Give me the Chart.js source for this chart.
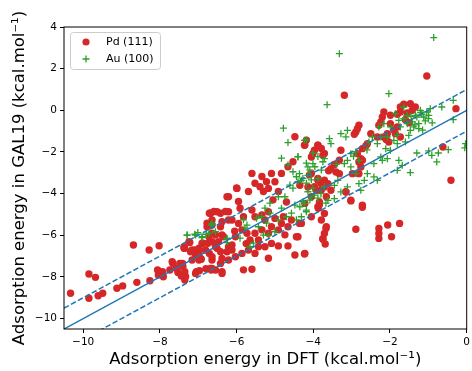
<!DOCTYPE html>
<html>
<head>
<meta charset="utf-8">
<script src="https://cdn.jsdelivr.net/npm/chart.js@4.4.1/dist/chart.umd.min.js"></script>
<style>
html,body{margin:0;padding:0;background:#fff;}
canvas{display:block;}
</style>
</head>
<body>
<canvas id="c" width="472" height="371"></canvas>
<script>
// ---- data ----
const seriesNames = ['Pd (111)', 'Au (100)'];
const xTickVals = [-10, -8, -6, -4, -2, 0];
const yTickVals = [-10, -8, -6, -4, -2, 0, 2, 4];
const xTitle = 'Adsorption energy in DFT (kcal.mol\u207B\u00B9)';
const yTitle = 'Adsorption energy in GAL19 (kcal.mol\u207B\u00B9)';
const refLineX = [-10.5, 0];
const refOffsets = [0, 1, -1];

const pdX = [
-10.33,-9.85,-9.68,-9.85,-9.61,-9.49,-9.12,-8.97,-8.69,-8.60,-8.28,-8.26,-8.02,-8.06,-7.93,-8.04,-7.91,-7.74,-7.66,-7.57,-7.48,-7.40,-7.35,-7.44,-7.35,-7.53,-7.35,-7.22,-7.05,-6.97,-7.09,-7.01,-6.92,-6.75,-6.71,-6.66,-6.75,-6.88,-6.71,-7.68,-6.80,
-6.21,-6.00,-6.68,-6.51,-6.21,-6.77,-6.64,-6.42,-6.12,-6.72,-6.55,-6.38,-6.47,-6.64,-6.90,-7.37,-7.20,-7.07,-6.98,-6.81,-6.51,-6.42,-6.21,-6.12,-6.38,-6.64,-6.55,-6.38,-6.64,-6.94,
-7.41,-7.33,-7.07,-6.98,-6.68,-6.38,-6.42,-5.82,-5.60,-5.17,-4.48,-4.22,-4.91,-4.66,-4.44,-4.74,-3.75,-7.37,-7.24,-6.55,-6.25,-6.12,-6.03,-6.34,-6.64,-6.77,-6.68,-6.59,-6.42,-6.29,-6.38,-6.64,-6.21,
-5.95,-5.91,-5.82,-5.95,-5.86,-5.73,-5.65,-5.43,-5.52,-5.34,-5.17,-5.09,-4.91,-4.83,-4.66,-4.57,-4.78,-5.00,-5.26,-5.34,-5.17,-5.52,-5.60,
-6.25,-5.99,-5.69,-5.60,-5.52,-5.34,-5.39,-5.30,-5.17,-5.22,-5.09,-5.00,-4.91,-4.83,-4.66,-4.53,-4.48,-4.22,-4.18,-3.88,-3.79,-3.71,
-4.05,-3.88,-3.71,-3.97,-3.79,-3.66,-4.05,-4.22,-3.88,-3.71,-4.05,-4.31,-3.79,-3.66,
-7.16,-6.98,-7.16,-6.64,-6.21,-6.03,-5.86,-5.69,-5.43,-5.52,-5.26,-5.09,
-1.04,-3.19,-0.28,-0.62,-0.41,-3.02,-2.72,-2.81,-2.85,-2.89,-2.93,-2.16,-2.20,-2.24,-2.29,-1.73,-1.64,-1.47,-1.34,-1.42,-1.55,-1.81,-1.73,-1.99,-1.81,-1.73,-1.86,-2.07,-2.16,-2.03,-2.50,-2.59,-2.63,-2.72,-2.85,-2.76,-2.81,-3.28,-3.88,-3.97,-4.01,-4.05,-3.75,-4.23,-3.54,-3.41,-3.32,-2.81,-3.88,-3.80,-3.71,-3.92,-3.62,-3.54,-4.14,-3.15,-3.84,-2.72,-1.99,-2.33,-2.76,-2.98,-3.32,
-3.15,-3.02,-2.72,-3.84,-3.87,-4.36,-4.40,-3.67,-3.71,-3.75,-3.69,-4.23,-2.89,-2.29,-2.29,-2.29,-2.06,-1.96,-1.75,
-1.60,-1.50,-1.90,-2.10,-3.45,-3.60,-4.10,-4.35,-5.05,-4.70,-6.05,-5.75
];
const pdY = [
-8.78,-7.86,-8.02,-9.02,-8.90,-8.78,-8.54,-8.43,-6.47,-8.26,-6.71,-8.18,-6.50,-7.67,-7.75,-7.91,-7.99,-7.67,-7.35,-7.59,-7.35,-7.51,-7.75,-7.96,-8.15,-7.79,-6.62,-6.35,-7.75,-7.70,-6.71,-6.87,-7.15,-5.50,-4.94,-7.67,-6.38,-6.38,-6.87,-7.27,-7.60,
-4.15,-3.73,-4.94,-4.87,-4.87,-5.42,-5.51,-5.59,-5.27,-6.07,-5.99,-5.99,-6.31,-6.31,-6.38,-6.62,-6.79,-6.95,-6.62,-6.71,-6.62,-6.79,-6.55,-6.71,-7.11,-7.19,-7.67,-7.75,-7.59,-7.11,
-7.35,-7.98,-7.83,-7.19,-7.59,-7.83,-7.35,-7.66,-7.63,-7.10,-6.95,-6.87,-6.51,-6.51,-6.07,-5.98,-6.15,-6.55,-6.31,-6.55,-6.79,-6.47,-6.07,-6.07,-5.90,-5.59,-4.94,-4.86,-4.94,-4.86,-5.35,-5.27,-5.27,
-4.38,-4.70,-5.11,-5.43,-5.74,-5.90,-6.23,-6.23,-5.90,-5.74,-5.90,-5.59,-5.74,-5.43,-5.59,-5.27,-5.11,-5.19,-5.27,-5.03,-4.87,-5.11,-4.79,
-4.15,-3.75,-3.90,-3.03,-3.50,-3.18,-3.67,-3.90,-3.75,-3.43,-3.03,-3.43,-3.90,-3.03,-2.71,-2.47,-1.27,-1.67,-1.43,-1.67,-1.83,-2.07,
-3.03,-3.27,-3.35,-3.67,-3.83,-4.15,-4.15,-4.47,-4.63,-4.95,-5.11,-5.43,-5.27,-5.59,
-6.71,-6.87,-7.19,-7.03,-7.19,-7.03,-6.87,-6.71,-6.55,-6.87,-6.55,-6.39,
1.65,0.72,0.08,-1.76,-3.36,-4.32,-4.56,-0.72,-0.88,-1.04,-1.15,-0.08,-0.32,-0.56,-0.72,0.16,0.29,0.32,0.16,0.00,-0.13,-0.19,-0.08,-0.64,-0.80,-1.28,-1.12,-1.12,-1.28,-1.52,-1.12,-1.60,-1.71,-1.84,-2.08,-2.32,-2.48,-1.92,-1.68,-1.92,-2.08,-2.24,-2.16,-1.68,-2.80,-2.96,-3.04,-3.04,-3.36,-3.52,-3.68,-3.84,-3.52,-3.84,-3.68,-3.92,-4.40,-2.40,-0.24,-1.28,-2.72,-3.04,-2.40,
-3.91,-4.35,-4.66,-4.54,-4.70,-5.43,-6.07,-5.67,-5.91,-6.19,-6.42,-6.90,-5.71,-5.67,-5.91,-6.15,-5.51,-6.07,-5.43,
-0.45,-0.60,-0.95,-1.40,-2.60,-2.90,-3.10,-3.60,-4.30,-4.40,-5.80,-6.40
];

const auX = [
-7.29,-7.09,-7.01,-6.90,-6.79,-6.66,-6.64,-6.55,-6.25,-6.25,
-4.78,-4.66,-4.18,-4.83,-4.40,-4.18,-4.01,-3.88,-3.75,-3.96,-4.09,-3.79,-4.66,-4.53,-4.44,-4.61,-4.53,-4.40,-4.27,-4.18,-4.05,-4.01,-4.14,-3.97,-4.09,-4.27,-4.35,-4.18,-3.88,-3.71,-3.67,
-4.91,-5.13,-5.26,-5.13,-5.35,-5.22,-5.43,-5.48,-4.83,-4.70,-4.91,-4.57,-4.48,-5.00,-5.17,-5.30,-5.73,-5.82,-5.91,-5.78,-5.56,-5.65,-6.25,-6.64,-6.72,-6.90,-7.07,-7.29,-4.74,-4.18,-4.31,-4.44,
-4.23,-4.40,-4.14,-4.01,-3.71,-3.58,-3.54,-3.28,-3.15,-3.11,-3.11,-3.02,-2.89,-2.81,-3.19,-3.02,-2.89,-2.81,-3.11,-3.28,-3.45,-3.62,-2.59,-2.42,-2.24,-2.20,-2.07,-2.33,-2.46,-2.55,-2.29,-2.16,-1.90,-1.81,-1.60,-1.38,-1.25,-1.12,-0.99,-0.95,-1.21,-1.34,-1.55,-1.64,-1.77,-1.47,-1.99,-2.11,-2.42,-2.67,-2.33,-2.76,-3.80,-4.05,-4.23,-4.31,-4.36,-4.14,-3.88,-3.45,-3.36,
-1.30,-1.17,-1.08,-1.42,-1.04,-1.25,-1.51,-1.55,-1.73,-1.99,-1.81,-2.07,-2.24,-1.64,-1.86,
-0.65,-0.35,-0.35,-0.03,-0.05,-1.30,-0.99,-0.91,-0.74,-0.48,-0.78,-1.47,-1.77,-1.68,-1.81,-2.03,-3.64,-3.32,-0.86,
-1.20,-1.00,-1.35,-0.90,-1.15,-1.45,-2.60,-2.95,-3.40
];
const auY = [
-5.99,-5.95,-5.87,-6.11,-5.95,-5.50,-5.43,-5.83,-6.19,-6.35,
-0.86,-1.55,-1.42,-2.30,-2.22,-2.54,-2.06,-2.22,-2.47,-2.71,-2.87,-2.87,-2.62,-2.95,-3.19,-3.59,-3.74,-3.43,-3.27,-3.50,-3.34,-3.74,-3.91,-4.07,-4.31,-4.39,-4.63,-4.79,-4.22,-3.67,-4.46,
-4.15,-4.46,-4.70,-4.94,-5.11,-5.42,-5.59,-5.18,-4.70,-5.11,-5.26,-4.94,-4.55,-5.83,-5.99,-5.99,-5.51,-5.26,-6.14,-5.66,-6.38,-6.55,-6.14,-5.51,-5.90,-6.07,-5.99,-5.99,-4.15,-4.87,-5.11,-5.26,
-1.44,-2.24,-2.72,-2.56,-2.32,-1.36,-1.60,-1.12,-1.28,-0.96,-2.40,-2.08,-2.00,-2.40,-2.56,-2.72,-3.04,-3.52,-3.68,-3.92,-4.24,-4.32,-3.04,-2.56,-2.24,-2.40,-2.32,-1.60,-1.28,-1.52,-0.80,-0.64,-1.44,-1.20,-1.52,-0.80,-0.64,-0.32,-0.24,0.08,0.00,-0.24,-0.64,-0.40,-0.48,-0.96,-1.92,-1.84,-3.20,-3.36,-3.36,-3.84,-4.00,-4.16,-4.48,-3.36,-3.04,-3.12,-3.28,-3.60,-3.36,
-0.32,-0.19,-0.51,-0.56,-0.08,-0.88,-1.20,-0.24,-0.80,-0.80,-1.60,-1.28,-1.28,0.16,-0.16,
0.16,0.48,-0.45,-1.60,-1.80,-2.05,-1.95,-2.16,-2.05,-1.89,-2.48,-2.99,-2.40,-2.64,-2.88,0.80,0.27,2.72,3.49,
-0.10,-0.40,-0.70,-0.60,-0.95,-0.30,-1.90,-2.20,-2.60
];

// ---- build ----
const toPts = (xs, ys) => xs.map((x, i) => ({x: x, y: ys[i]}));
const refLine = off => refLineX.map(x => ({x: x, y: x + off}));
const minus = v => String(v).replace('-', '\u2212');

const BLUE = '#1f77b4', RED = '#d62728', GREEN = '#2ca02c';

const framePlugin = {
  id: 'frame',
  afterDatasetsDraw(chart) {
    const {ctx, chartArea: a} = chart;
    ctx.save();
    ctx.strokeStyle = '#000';
    ctx.lineWidth = 1;
    ctx.strokeRect(a.left, a.top, a.right - a.left, a.bottom - a.top);
    // legend
    const lx = 70.5, ly = 32.5, lw = 90, lh = 37, r = 3;
    ctx.beginPath();
    ctx.moveTo(lx + r, ly);
    ctx.lineTo(lx + lw - r, ly);
    ctx.quadraticCurveTo(lx + lw, ly, lx + lw, ly + r);
    ctx.lineTo(lx + lw, ly + lh - r);
    ctx.quadraticCurveTo(lx + lw, ly + lh, lx + lw - r, ly + lh);
    ctx.lineTo(lx + r, ly + lh);
    ctx.quadraticCurveTo(lx, ly + lh, lx, ly + lh - r);
    ctx.lineTo(lx, ly + r);
    ctx.quadraticCurveTo(lx, ly, lx + r, ly);
    ctx.closePath();
    ctx.fillStyle = 'rgba(255,255,255,0.8)';
    ctx.fill();
    ctx.strokeStyle = '#cccccc';
    ctx.stroke();
    // markers
    ctx.fillStyle = RED;
    ctx.beginPath();
    ctx.arc(86, 42, 3.6, 0, Math.PI * 2);
    ctx.fill();
    ctx.strokeStyle = GREEN;
    ctx.lineWidth = 1.3;
    ctx.beginPath();
    ctx.moveTo(82.5, 59); ctx.lineTo(89.5, 59);
    ctx.moveTo(86, 55.5); ctx.lineTo(86, 62.5);
    ctx.stroke();
    ctx.fillStyle = '#000';
    ctx.font = '11px "DejaVu Sans"';
    ctx.textBaseline = 'middle';
    ctx.textAlign = 'left';
    ctx.fillText(seriesNames[0], 106, 42);
    ctx.fillText(seriesNames[1], 106, 59);
    ctx.restore();
  }
};

Chart.defaults.font.family = '"DejaVu Sans", sans-serif';
Chart.defaults.color = '#000';

new Chart(document.getElementById('c'), {
  type: 'scatter',
  data: {
    datasets: [
      {label: seriesNames[0], data: toPts(pdX, pdY), pointStyle: 'circle', pointRadius: 3.7,
       backgroundColor: RED, borderColor: RED, borderWidth: 0, order: 3, clip: 0},
      {label: seriesNames[1], data: toPts(auX, auY), pointStyle: 'cross', pointRadius: 3.5,
       backgroundColor: GREEN, borderColor: GREEN, borderWidth: 1.3, order: 2, clip: 0},
      {label: 'y=x', data: refLine(refOffsets[0]), showLine: true, pointRadius: 0,
       borderColor: BLUE, borderWidth: 1.5, order: 1, clip: 0},
      {label: 'y=x+1', data: refLine(refOffsets[1]), showLine: true, pointRadius: 0,
       borderColor: BLUE, borderWidth: 1.5, borderDash: [5.5, 2.4], order: 1, clip: 0},
      {label: 'y=x-1', data: refLine(refOffsets[2]), showLine: true, pointRadius: 0,
       borderColor: BLUE, borderWidth: 1.5, borderDash: [5.5, 2.4], order: 1, clip: 0}
    ]
  },
  options: {
    responsive: false,
    animation: false,
    devicePixelRatio: 1,
    layout: {padding: {top: 27, right: 2, left: 0, bottom: 0}},
    plugins: {legend: {display: false}, tooltip: {enabled: false}},
    events: [],
    scales: {
      x: {
        type: 'linear', min: -10.5, max: 0,
        afterBuildTicks: s => { s.ticks = xTickVals.map(v => ({value: v})); },
        afterFit: s => { s.height = 42; s.paddingLeft = 0; s.paddingRight = 0; },
        grid: {display: true, drawOnChartArea: false, drawTicks: true, tickLength: 4, color: '#000', lineWidth: 1},
        border: {display: false},
        ticks: {font: {size: 10.5}, color: '#000', padding: 3, maxRotation: 0, autoSkip: false,
                callback: v => minus(v)},
        title: {display: true, text: xTitle, font: {size: 16.5}, color: '#000', padding: {top: 0, bottom: 1.5}}
      },
      y: {
        type: 'linear', min: -10.5, max: 4,
        afterBuildTicks: s => { s.ticks = yTickVals.map(v => ({value: v})); },
        afterFit: s => { s.width = 64; s.paddingTop = 0; s.paddingBottom = 0; },
        grid: {display: true, drawOnChartArea: false, drawTicks: true, tickLength: 4, color: '#000', lineWidth: 1},
        border: {display: false},
        ticks: {font: {size: 10.5}, color: '#000', padding: 3, autoSkip: false,
                callback: v => minus(v)},
        title: {display: true, text: yTitle, font: {size: 16.5}, color: '#000', padding: {top: 9.5, bottom: 0}}
      }
    }
  },
  plugins: [framePlugin]
});
</script>
</body>
</html>
